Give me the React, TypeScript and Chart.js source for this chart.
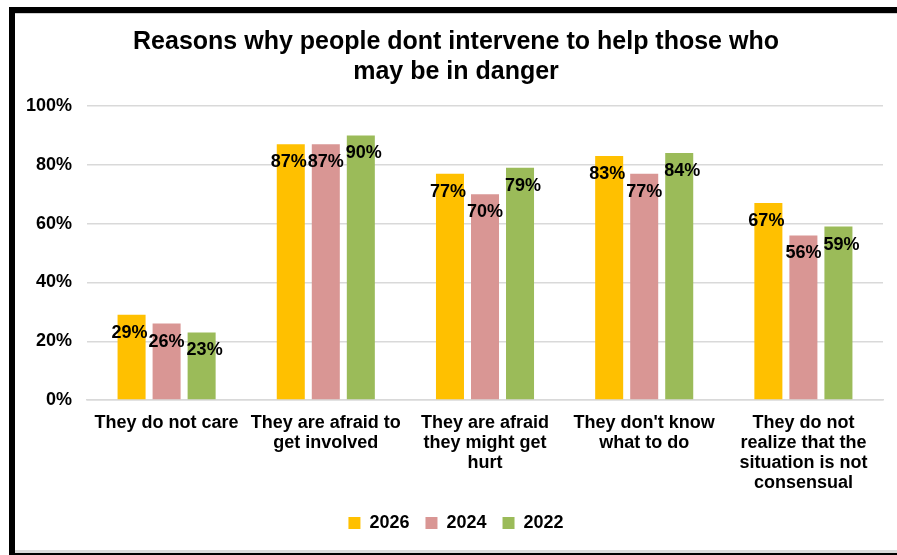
import React, { useEffect, useRef } from "react";
import { Chart, registerables } from "chart.js";

Chart.register(...registerables);

const categories: string[][] = [
  ["They do not care"],
  ["They are afraid to", "get involved"],
  ["They are afraid", "they might get", "hurt"],
  ["They don't know", "what to do"],
  ["They do not", "realize that the", "situation is not", "consensual"],
];
const seriesNames = ["2026", "2024", "2022"];
const values2026 = [29, 87, 77, 83, 67];
const values2024 = [26, 87, 70, 77, 56];
const values2022 = [23, 90, 79, 84, 59];
const seriesColors = ["#FFC000", "#D99694", "#9BBB59"];
const yTicks = [0, 20, 40, 60, 80, 100];
const titleLines = [
  "Reasons why people dont intervene to help those who",
  "may be in danger",
];

const FONT = "'Liberation Sans', Arial, Helvetica, sans-serif";
const labelOffsetX = [-2, 0, 3];
const labelOffsetY = 18;

const dataLabelPlugin = {
  id: "valueLabels",
  afterDatasetsDraw(chart: any) {
    const ctx = chart.ctx;
    ctx.save();
    ctx.font = `bold 18px ${FONT}`;
    ctx.fillStyle = "#000";
    ctx.textAlign = "center";
    ctx.textBaseline = "middle";
    chart.data.datasets.forEach((ds: any, di: number) => {
      const meta = chart.getDatasetMeta(di);
      meta.data.forEach((bar: any, i: number) => {
        ctx.fillText(`${ds.data[i]}%`, bar.x + labelOffsetX[di], bar.y + labelOffsetY);
      });
    });
    ctx.restore();
  },
};

export default function App() {
  const canvasRef = useRef<HTMLCanvasElement | null>(null);

  useEffect(() => {
    if (!canvasRef.current) return;
    const chart = new Chart(canvasRef.current, {
      type: "bar",
      data: {
        labels: categories,
        datasets: [values2026, values2024, values2022].map((d, i) => ({
          label: seriesNames[i],
          data: d,
          backgroundColor: seriesColors[i],
          categoryPercentage: 0.66,
          barPercentage: 0.8,
        })),
      },
      options: {
        animation: false,
        responsive: true,
        maintainAspectRatio: false,
        layout: { padding: { left: 0, right: 0, top: 0, bottom: 8 } },
        plugins: {
          title: {
            display: true,
            text: titleLines,
            color: "#000",
            font: { family: FONT, size: 25, weight: "bold", lineHeight: 1.2 },
            padding: { top: 13, bottom: 19 },
          },
          legend: {
            position: "bottom",
            labels: {
              color: "#000",
              font: { family: FONT, size: 18, weight: "bold" },
              boxWidth: 12,
              boxHeight: 12,
              padding: 16,
            },
          },
          tooltip: { enabled: false },
        },
        scales: {
          x: {
            grid: { display: false, drawTicks: false },
            border: { display: true, color: "#d9d9d9", width: 1.5 },
            afterFit: (scale: any) => {
              scale.height = scale.height - 8;
            },
            ticks: {
              color: "#000",
              font: { family: FONT, size: 18, weight: "bold", lineHeight: 1.11 },
              padding: 13,
              maxRotation: 0,
              autoSkip: false,
            },
          },
          y: {
            min: 0,
            max: 100,
            afterBuildTicks: (scale: any) => {
              scale.ticks = yTicks.map((v) => ({ value: v }));
            },
            afterFit: (scale: any) => {
              scale.width = 72;
            },
            grid: { color: "#d9d9d9", lineWidth: 1.5, drawTicks: false },
            border: { display: false },
            ticks: {
              color: "#000",
              font: { family: FONT, size: 18, weight: "bold" },
              padding: 15,
              callback: (v: any) => `${v}%`,
            },
          },
          yRight: {
            position: "right",
            display: true,
            grid: { display: false, drawTicks: false },
            border: { display: false },
            ticks: { display: false },
            afterFit: (scale: any) => {
              scale.width = 14;
            },
          },
        },
      },
      plugins: [dataLabelPlugin],
    });
    return () => chart.destroy();
  }, []);

  return (
    <div
      style={{
        position: "fixed",
        left: 0,
        top: 0,
        width: 897,
        height: 555,
        background: "#fff",
        overflow: "hidden",
      }}
    >
      <div
        style={{
          position: "absolute",
          left: 9,
          top: 7,
          width: 920,
          height: 548,
          boxSizing: "border-box",
          borderLeft: "6px solid #000",
          borderTop: "6px solid #000",
          borderBottom: "2px solid #000",
        }}
      >
        <div
          style={{
            position: "absolute",
            left: 0,
            top: 0,
            right: 0,
            bottom: 0,
            boxSizing: "border-box",
            borderTop: "1px solid #d0d0d0",
            borderBottom: "3px solid #d9d9d9",
          }}
        />
      </div>
      <div style={{ position: "absolute", left: 15, top: 14, width: 882, height: 536 }}>
        <canvas ref={canvasRef} />
      </div>
    </div>
  );
}
